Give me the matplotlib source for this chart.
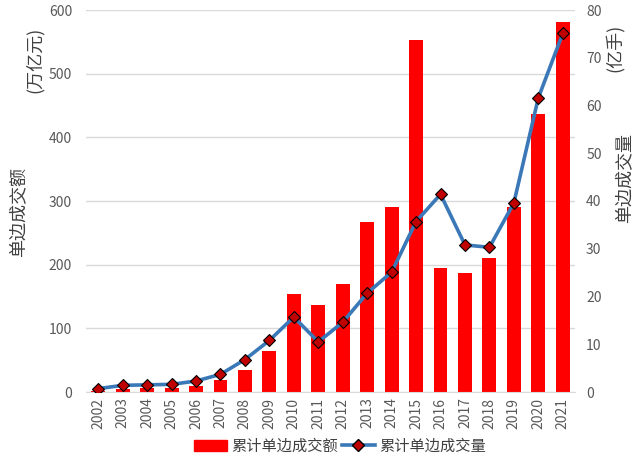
import matplotlib
matplotlib.use("Agg")
import matplotlib.pyplot as plt
from matplotlib.lines import Line2D
from matplotlib.patches import Patch

plt.rcParams['font.family'] = ['Noto Sans CJK SC', 'DejaVu Sans']

# data
years = ['2002', '2003', '2004', '2005', '2006', '2007', '2008', '2009', '2010', '2011',
         '2012', '2013', '2014', '2015', '2016', '2017', '2018', '2019', '2020', '2021']
amount = [1.5, 4.7, 6.8, 6.5, 9.4, 18.8, 34.6, 64.4, 154, 137,
          170, 267, 291, 553, 195, 187, 210, 290, 437, 581]   # 万亿元
volume = [0.7, 1.4, 1.5, 1.6, 2.3, 3.7, 6.8, 10.8, 15.7, 10.5,
          14.6, 20.7, 25.1, 35.7, 41.4, 30.8, 30.3, 39.6, 61.6, 75.1]  # 亿手

bar_color = '#FF0000'
line_color = '#3A78B8'
tick_color = '#595959'

fig = plt.figure(figsize=(6.44, 4.59), dpi=100)
ax = fig.add_axes([86 / 644, 1 - 392 / 459, (575 - 86) / 644, (392 - 10) / 459])
ax2 = ax.twinx()

x = list(range(len(years)))
ax.bar(x, amount, width=0.57, color=bar_color, zorder=2)
ax2.plot(x, volume, color=line_color, lw=2.6, marker='D', markersize=6,
         markerfacecolor='#C00000', markeredgecolor='black', markeredgewidth=0.8, zorder=3)

ax.set_xlim(-0.5, len(years) - 0.5)
ax.set_ylim(0, 600)
ax2.set_ylim(0, 80)
ax.set_yticks(range(0, 601, 100))
ax2.set_yticks(range(0, 81, 10))
ax.set_xticks(x)
ax.set_xticklabels(years, rotation=90)

ax.grid(axis='y', color='#D9D9D9', lw=1, zorder=0)
ax.set_axisbelow(True)
for a in (ax, ax2):
    for s in a.spines.values():
        s.set_visible(False)
    a.tick_params(length=0, colors=tick_color, labelsize=10)
ax.spines['bottom'].set_visible(True)
ax.spines['bottom'].set_color('#D9D9D9')
ax.tick_params(axis='y', pad=10)
ax2.tick_params(axis='y', pad=8)
ax.tick_params(axis='x', pad=4)

# axis titles
fig.text(18 / 644, 1 - 212 / 459, '单边成交额', rotation=90, ha='center', va='center',
         fontsize=13, color='#404040')
fig.text(35 / 644, 1 - 60 / 459, '(万亿元)', rotation=90, ha='center', va='center',
         fontsize=13, color='#404040')
fig.text(624 / 644, 1 - 178 / 459, '单边成交量', rotation=90, ha='center', va='center',
         fontsize=13, color='#404040')
fig.text(614 / 644, 1 - 48 / 459, '(亿手)', rotation=90, ha='center', va='center',
         fontsize=13, color='#404040')

handles = [Patch(color=bar_color),
           Line2D([], [], color=line_color, lw=2.6, marker='D', markersize=6,
                  markerfacecolor='#C00000', markeredgecolor='black')]
fig.legend(handles, ['累计单边成交额', '累计单边成交量'], loc='center',
           bbox_to_anchor=(340 / 644, 1 - 446 / 459), ncol=2, frameon=False,
           fontsize=11, handlelength=2.2, handletextpad=0.3, columnspacing=0.2,
           labelcolor='#404040')

fig.savefig('out.png', dpi=100)
